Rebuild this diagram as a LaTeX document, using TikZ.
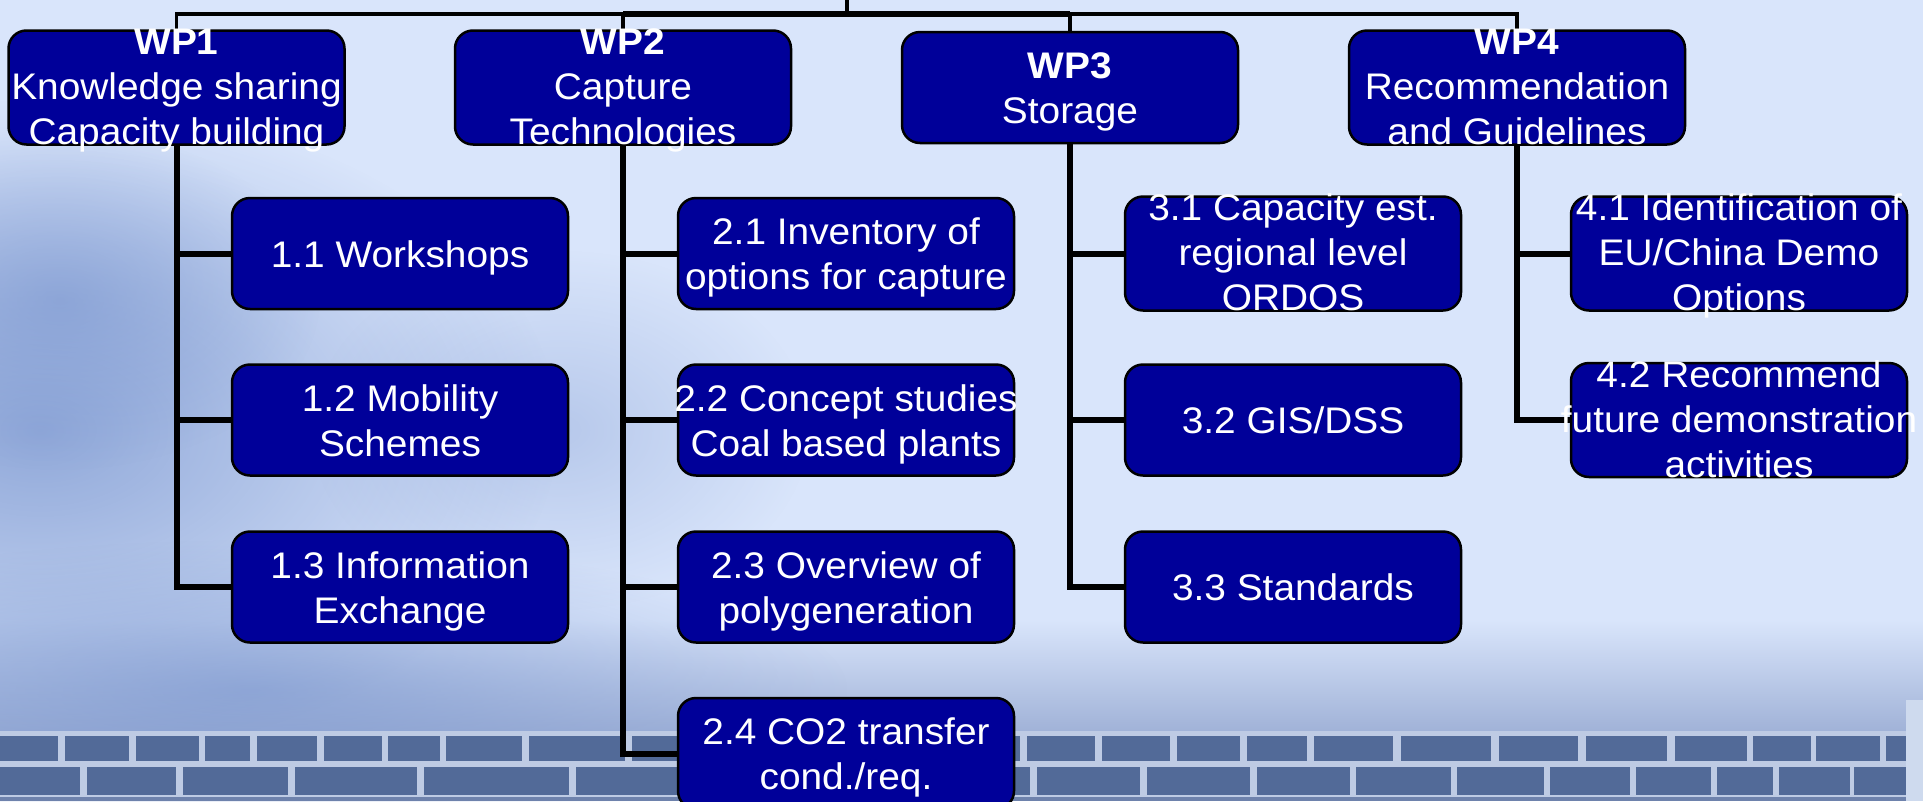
\documentclass[tikz,border=0pt]{standalone}
\usepackage{fontspec}
\setmainfont{Liberation Sans}[FakeStretch=1.05]
\usetikzlibrary{fadings}
\definecolor{boxblue}{RGB}{0,0,153}
\definecolor{bglight}{RGB}{217,229,251}
\definecolor{bgdark}{RGB}{120,148,206}
\definecolor{brick}{RGB}{82,106,152}
\definecolor{mortar}{RGB}{190,203,228}
\definecolor{haze}{RGB}{158,176,214}
\definecolor{wallbase}{RGB}{110,130,172}
\newcommand\wideline[1]{\makebox[330pt]{#1}}
\pgfdeclarelayer{bg}
\pgfdeclarelayer{conn}
\pgfsetlayers{bg,conn,main}
\tikzfading[name=fuzzy, inner color=transparent!0, outer color=transparent!100]
\begin{document}
\begin{tikzpicture}[x=1pt,y=-1pt,
  wpbox/.style={draw=black, line width=2.5pt, fill=boxblue, rounded corners=18pt,
    minimum width=336pt, minimum height=111pt, inner sep=0pt, text=white,
    align=center, font=\fontsize{37}{45}\selectfont},
  one/.style={text height=27pt, text depth=0pt},
  two/.style={text height=72pt, text depth=0pt},
  three/.style={text height=114pt, text depth=-3pt},
  conn/.style={line width=6pt},
  bus/.style={line width=4pt, line cap=rect},
  busthick/.style={line width=6pt},
  drop/.style={line width=3.5pt}]
\useasboundingbox (0,0) rectangle (1923,801);

% ---------- nodes ----------
\node[wpbox,three] (wp1) at (176.5,87.5) {\textbf{WP1}\\Knowledge sharing\\Capacity building};
\node[wpbox,three] (wp2) at (623,87.5) {\textbf{WP2}\\Capture\\Technologies};
\node[wpbox,two] (wp3) at (1070,87.5) {\textbf{WP3}\\Storage};
\node[wpbox,three] (wp4) at (1517,87.5) {\textbf{WP4}\\Recommendation\\and Guidelines};

\node[wpbox,one] (s11) at (400,253.5) {1.1 Workshops};
\node[wpbox,two] (s12) at (400,420) {1.2 Mobility\\Schemes};
\node[wpbox,two] (s13) at (400,587) {1.3 Information\\Exchange};

\node[wpbox,two] (s21) at (846,253.5) {2.1 Inventory of\\options for capture};
\node[wpbox,two] (s22) at (846,420) {\wideline{2.2 Concept studies}\\Coal based plants};
\node[wpbox,two] (s23) at (846,587) {2.3 Overview of\\polygeneration};
\node[wpbox,two] (s24) at (846,753.5) {2.4 CO2 transfer\\cond./req.};

\node[wpbox,three] (s31) at (1293,253.5) {3.1 Capacity est.\\regional level\\ORDOS};
\node[wpbox,one] (s32) at (1293,420) {3.2 GIS/DSS};
\node[wpbox,one] (s33) at (1293,587) {3.3 Standards};

\node[wpbox,three] (s41) at (1739,253.5) {\wideline{4.1 Identification of}\\EU/China Demo\\Options};
\node[wpbox,three] (s42) at (1739,420) {4.2 Recommend\\\wideline{future demonstration}\\activities};

\coordinate (root) at (847,0);
\coordinate (busc) at (847,13.5);

% ---------- background ----------
\begin{pgfonlayer}{bg}
\clip (0,0) rectangle (1923,801);
\fill[bglight] (0,0) rectangle (1923,801);
\shade[top color=bglight, bottom color=haze] (0,620) rectangle (1923,736);
\fill[bgdark, path fading=fuzzy, opacity=0.75] (40,430) ellipse (520 and 330);
\fill[bgdark, path fading=fuzzy, opacity=0.6] (60,300) ellipse (260 and 170);
\fill[bgdark, path fading=fuzzy, opacity=0.6] (250,690) ellipse (600 and 150);
\fill[bgdark, path fading=fuzzy, opacity=0.35] (560,430) ellipse (250 and 180);
% brick wall
\fill[mortar] (0,731) rectangle (1906,801);
\fill[wallbase] (0,797) rectangle (1906,801);
\foreach \a/\b in {0/58,65/129,136/199,205/250,257/317,324/382,388/440,446/522,529/625,
  632/700,707/780,787/860,867/940,947/1020,1027/1095,1102/1170,1177/1240,1247/1307,
  1314/1393,1401/1491,1499/1578,1586/1667,1675/1747,1753/1811,1816/1880,1886/1906}
  \fill[brick] (\a,736) rectangle (\b,761);
\foreach \a/\b in {0/80,87/176,183/288,295/417,424/569,576/690,697/800,807/920,927/1030,
  1037/1140,1147/1250,1257/1350,1356/1451,1457/1544,1550/1630,1636/1711,1717/1773,
  1779/1850,1854/1906}
  \fill[brick] (\a,767) rectangle (\b,795);
\fill[bglight!95!black] (1906,700) rectangle (1923,801);
\end{pgfonlayer}

% ---------- connectors ----------
\begin{pgfonlayer}{conn}
\draw[drop] (root) -- (busc);
\draw[bus] (wp1.north |- busc) -- (wp4.north |- busc);
\draw[busthick] (wp2.north |- busc) -- (wp3.north |- busc);
\draw[drop] (wp1.north |- busc) -- (wp1.north);
\draw[drop] (wp2.north |- busc) -- (wp2.north);
\draw[drop] (wp3.north |- busc) -- (wp3.north);
\draw[drop] (wp4.north |- busc) -- (wp4.north);

\draw[conn] (wp1.south) |- (s11.west);
\draw[conn] (wp1.south) |- (s12.west);
\draw[conn] (wp1.south) |- (s13.west);
\draw[conn] (wp2.south) |- (s21.west);
\draw[conn] (wp2.south) |- (s22.west);
\draw[conn] (wp2.south) |- (s23.west);
\draw[conn] (wp2.south) |- (s24.west);
\draw[conn] (wp3.south) |- (s31.west);
\draw[conn] (wp3.south) |- (s32.west);
\draw[conn] (wp3.south) |- (s33.west);
\draw[conn] (wp4.south) |- (s41.west);
\draw[conn] (wp4.south) |- (s42.west);
\end{pgfonlayer}
\end{tikzpicture}
\end{document}
